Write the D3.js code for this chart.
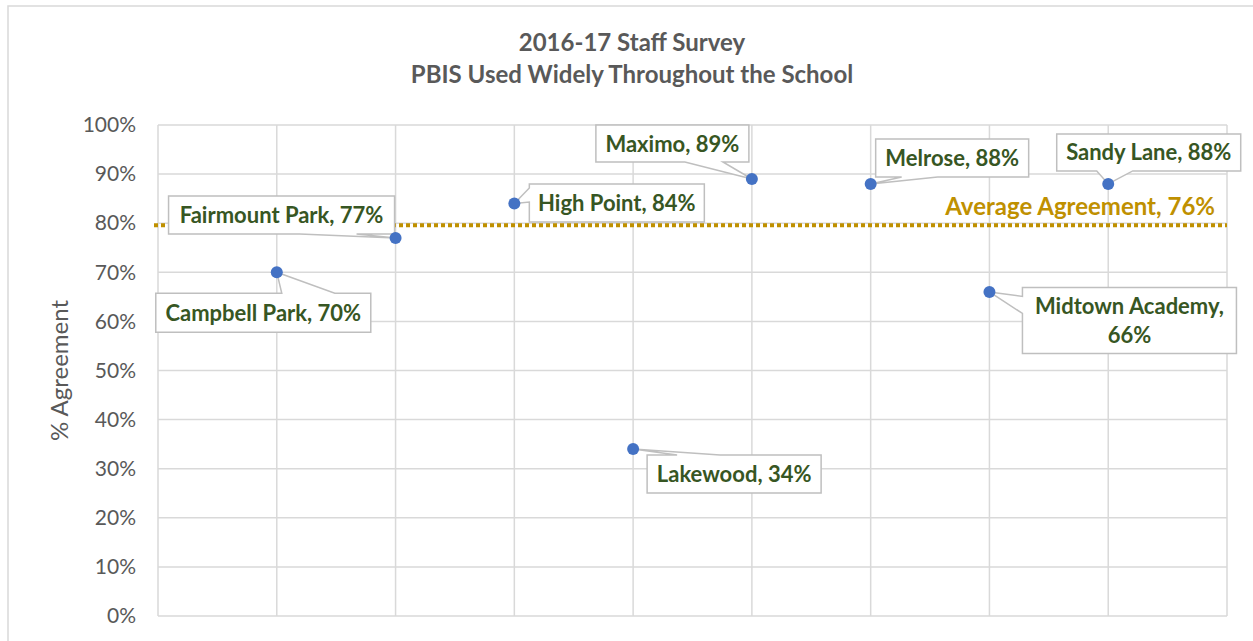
<!DOCTYPE html>
<html>
<head>
<meta charset="utf-8">
<script src="https://cdn.jsdelivr.net/npm/d3@7"></script>
<style>
  html, body { margin: 0; padding: 0; background: #fff; }
  svg { display: block; }
  text { font-family: Lato, "Noto Sans", sans-serif; }
</style>
</head>
<body>
<div id="chart"></div>
<script>
/* global d3 */

// chart data
const schools = ['Campbell Park', 'Fairmount Park', 'High Point', 'Lakewood', 'Maximo', 'Melrose', 'Midtown Academy', 'Sandy Lane']
const positions = [1, 2, 3, 4, 5, 6, 7, 8]
const agreement = [0.70, 0.77, 0.84, 0.34, 0.89, 0.88, 0.66, 0.88]
const averageLine = 0.796
const averageLabel = 'Average Agreement, 76%'
const yTicks = [0, 0.1, 0.2, 0.3, 0.4, 0.5, 0.6, 0.7, 0.8, 0.9, 1.0]
const xTicks = [0, 1, 2, 3, 4, 5, 6, 7, 8, 9]
const titleLines = ['2016-17 Staff Survey', 'PBIS Used Widely Throughout the School']

// callout layout (box offset from its point, box size, pointer side and base along that side)
const callouts = {
  'Campbell Park': { dx: -121, dy: 21, w: 215, h: 39, side: 'top', a: 126, b: 179, lines: ['Campbell Park, 70%'] },
  'Fairmount Park': { dx: -227, dy: -42, w: 226, h: 38, side: 'bottom', a: 131, b: 188, lines: ['Fairmount Park, 77%'] },
  'High Point': { dx: 15, dy: -19.5, w: 175, h: 38, side: 'left', a: 4, b: 18, lines: ['High Point, 84%'] },
  'Lakewood': { dx: 14, dy: 6, w: 174, h: 38, side: 'top', a: 30, b: 73, lines: ['Lakewood, 34%'] },
  'Maximo': { dx: -156, dy: -54, w: 153, h: 37, side: 'bottom', a: 89, b: 127, lines: ['Maximo, 89%'] },
  'Melrose': { dx: 5, dy: -45, w: 153, h: 38, side: 'bottom', a: 26, b: 62, lines: ['Melrose, 88%'] },
  'Midtown Academy': { dx: 33, dy: -4.5, w: 214, h: 66, side: 'left', a: 9, b: 26, lines: ['Midtown Academy,', '66%'] },
  'Sandy Lane': { dx: -51.5, dy: -50, w: 184, h: 37, side: 'bottom', a: 40, b: 76, lines: ['Sandy Lane, 88%'] }
}

const WIDTH = 1253
const HEIGHT = 641
const PLOT = { left: 158, right: 1227, top: 125, bottom: 616 }
const GRID_COLOR = '#d9d9d9'
const LABEL_COLOR = '#375623'
const AXIS_TEXT = '#595959'
const GOLD = '#bf9000'

const svg = d3.select('#chart')
  .append('svg')
  .attr('width', WIDTH)
  .attr('height', HEIGHT)

// outer chart border
svg.append('rect')
  .attr('x', 8)
  .attr('y', 6)
  .attr('width', WIDTH + 10)
  .attr('height', HEIGHT + 10)
  .attr('fill', '#fff')
  .attr('stroke', GRID_COLOR)
  .attr('stroke-width', 1.5)

const x = d3.scaleLinear().domain([0, 9]).range([PLOT.left, PLOT.right])
const y = d3.scaleLinear().domain([0, 1]).range([PLOT.bottom, PLOT.top])

// title
svg.append('g')
  .selectAll('text')
  .data(titleLines)
  .join('text')
  .attr('x', 632)
  .attr('y', (d, i) => 51 + i * 32)
  .attr('text-anchor', 'middle')
  .attr('font-size', '24px')
  .attr('font-weight', 'bold')
  .attr('fill', AXIS_TEXT)
  .text((d) => d)

// gridlines
svg.append('g')
  .selectAll('line')
  .data(yTicks)
  .join('line')
  .attr('x1', PLOT.left)
  .attr('x2', PLOT.right)
  .attr('y1', (d) => y(d))
  .attr('y2', (d) => y(d))
  .attr('stroke', GRID_COLOR)
  .attr('stroke-width', 1.5)

svg.append('g')
  .selectAll('line')
  .data(xTicks)
  .join('line')
  .attr('x1', (d) => x(d))
  .attr('x2', (d) => x(d))
  .attr('y1', PLOT.top)
  .attr('y2', PLOT.bottom)
  .attr('stroke', GRID_COLOR)
  .attr('stroke-width', 1.5)

// y axis labels
const yAxis = d3.axisLeft(y)
  .tickValues(yTicks)
  .tickFormat(d3.format('.0%'))
  .tickSize(0)
  .tickPadding(22)

svg.append('g')
  .attr('transform', `translate(${PLOT.left},0)`)
  .call(yAxis)
  .call((g) => g.select('.domain').remove())
  .call((g) => g.selectAll('text')
    .attr('fill', AXIS_TEXT)
    .attr('font-size', '21px')
    .attr('font-family', 'Lato, "Noto Sans", sans-serif'))

svg.append('text')
  .attr('transform', `translate(68,${(PLOT.top + PLOT.bottom) / 2}) rotate(-90)`)
  .attr('text-anchor', 'middle')
  .attr('font-size', '24px')
  .attr('fill', AXIS_TEXT)
  .text('% Agreement')

// average line
svg.append('line')
  .attr('x1', PLOT.left - 4)
  .attr('x2', PLOT.right)
  .attr('y1', y(averageLine))
  .attr('y2', y(averageLine))
  .attr('stroke', GOLD)
  .attr('stroke-width', 4)
  .attr('stroke-dasharray', '4 3')

svg.append('text')
  .attr('x', PLOT.right - 12)
  .attr('y', y(averageLine) - 10)
  .attr('text-anchor', 'end')
  .attr('font-size', '24px')
  .attr('font-weight', 'bold')
  .attr('fill', GOLD)
  .text(averageLabel)

const points = schools.map((name, i) => ({ name, px: x(positions[i]), py: y(agreement[i]) }))

// callout shape: box with a pointer going back to the point
function calloutPath(p, c) {
  const x0 = p.px + c.dx
  const y0 = p.py + c.dy
  const x1 = x0 + c.w
  const y1 = y0 + c.h
  let pts
  if (c.side === 'top') {
    pts = [[x0, y0], [x0 + c.a, y0], [p.px, p.py], [x0 + c.b, y0], [x1, y0], [x1, y1], [x0, y1]]
  } else if (c.side === 'bottom') {
    pts = [[x0, y0], [x1, y0], [x1, y1], [x0 + c.b, y1], [p.px, p.py], [x0 + c.a, y1], [x0, y1]]
  } else {
    pts = [[x0, y0], [x1, y0], [x1, y1], [x0, y1], [x0, y0 + c.b], [p.px, p.py], [x0, y0 + c.a]]
  }
  return d3.line()(pts) + 'Z'
}

const labels = svg.append('g')
  .selectAll('g')
  .data(points)
  .join('g')

labels.append('path')
  .attr('d', (d) => calloutPath(d, callouts[d.name]))
  .attr('fill', '#fff')
  .attr('stroke', '#bfbfbf')
  .attr('stroke-width', 1.5)

labels.each(function(d) {
  const c = callouts[d.name]
  const cx = d.px + c.dx + c.w / 2
  const lineH = 29
  const firstBase = d.py + c.dy + c.h / 2 + 8 - (c.lines.length - 1) * lineH / 2
  d3.select(this)
    .selectAll('text')
    .data(c.lines)
    .join('text')
    .attr('x', cx)
    .attr('y', (t, i) => firstBase + i * lineH)
    .attr('text-anchor', 'middle')
    .attr('font-size', '22px')
    .attr('font-weight', 'bold')
    .attr('fill', LABEL_COLOR)
    .text((t) => t)
})

// points
svg.append('g')
  .selectAll('circle')
  .data(points)
  .join('circle')
  .attr('cx', (d) => d.px)
  .attr('cy', (d) => d.py)
  .attr('r', 6)
  .attr('fill', '#4472c4')
</script>
</body>
</html>
